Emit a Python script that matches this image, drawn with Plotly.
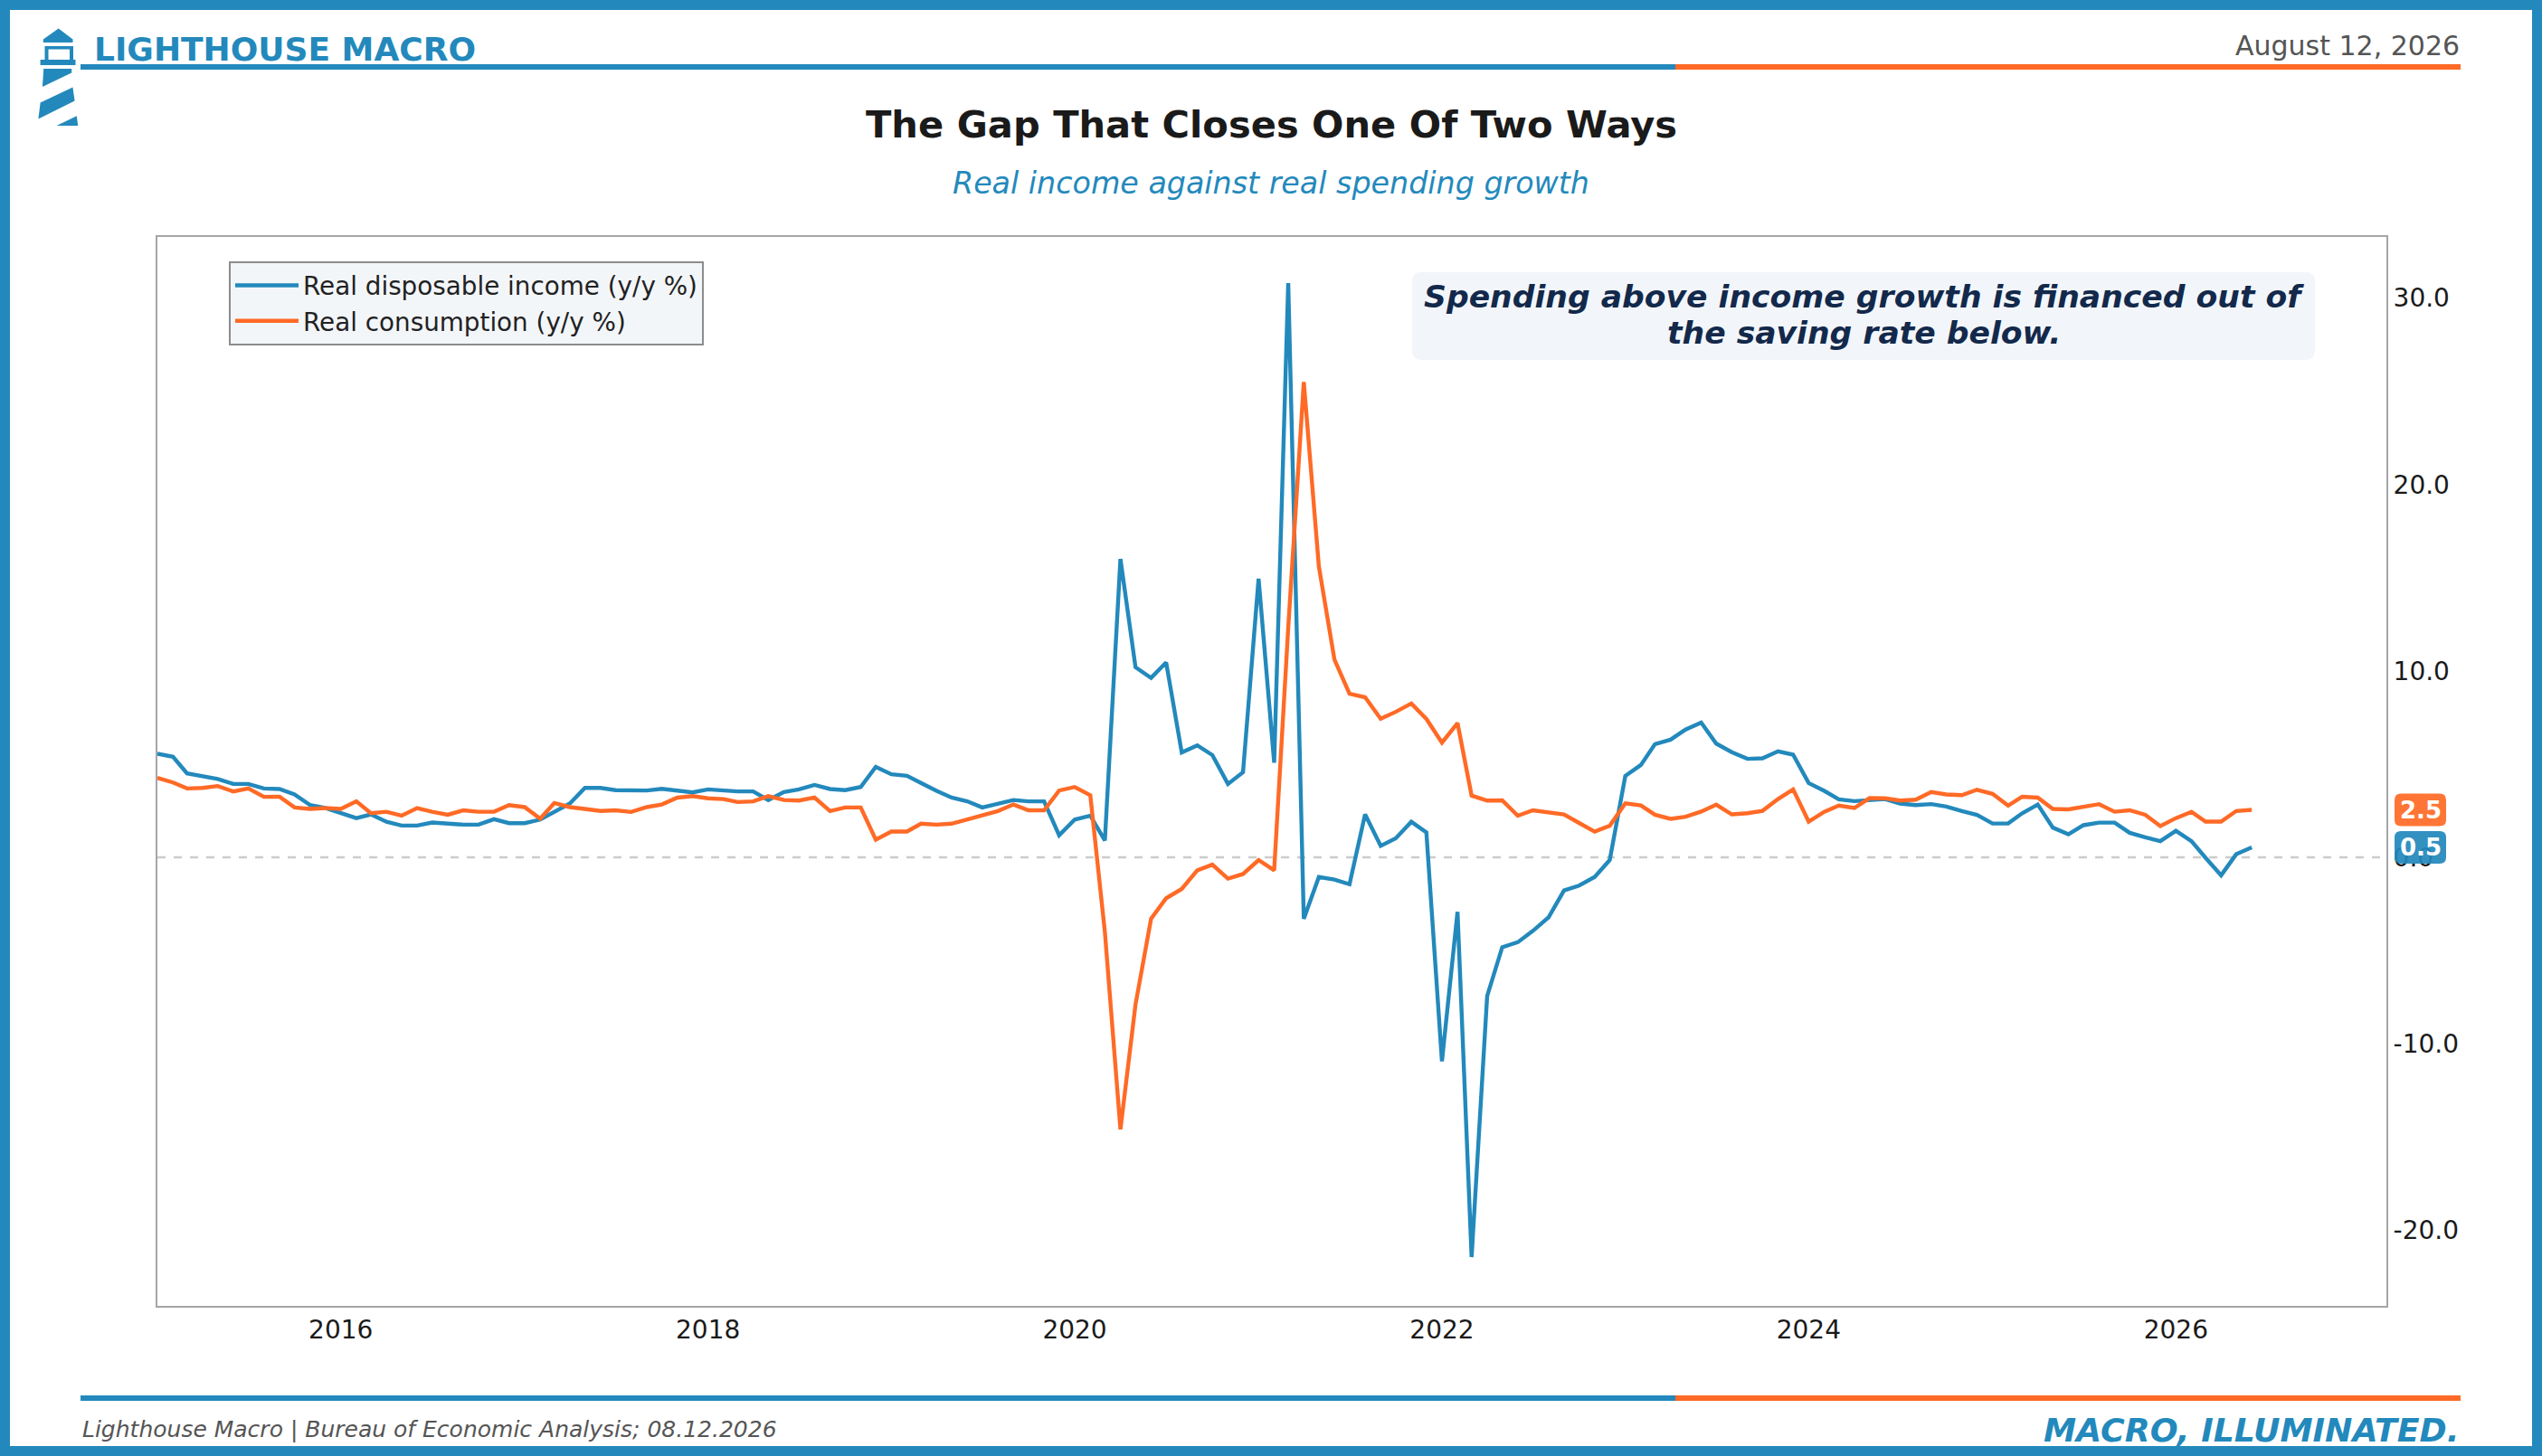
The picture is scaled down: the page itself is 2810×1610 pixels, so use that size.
import plotly.graph_objects as go
import pandas as pd

# ---------------- data ----------------
months = pd.date_range("2015-01-01", "2026-06-01", freq="MS")

income = [
    5.55, 5.39, 4.50, 4.34, 4.20, 3.93, 3.93, 3.69, 3.66, 3.37, 2.80, 2.64,
    2.39, 2.10, 2.30, 1.90, 1.70, 1.70, 1.86, 1.78, 1.75, 1.75, 2.04, 1.83,
    1.83, 2.02, 2.43, 2.88, 3.72, 3.72, 3.60, 3.60, 3.58, 3.67, 3.56, 3.48,
    3.64, 3.58, 3.53, 3.53, 3.07, 3.50, 3.64, 3.88, 3.66, 3.60, 3.77, 4.85,
    4.45, 4.37, 3.98, 3.56, 3.20, 3.00, 2.67, 2.88, 3.07, 3.00, 3.00, 1.18,
    2.02, 2.23, 0.90, 16.00, 10.20, 9.62, 10.45, 5.62, 6.00, 5.48, 3.93, 4.56,
    14.94, 5.07, 30.80, -3.30, -1.06, -1.20, -1.45, 2.30, 0.61, 1.02, 1.90, 1.33,
    -10.95, -2.93, -21.45, -7.45, -4.83, -4.56, -3.95, -3.23, -1.78, -1.52, -1.06, -0.15,
    4.36, 4.95, 6.07, 6.31, 6.85, 7.23, 6.10, 5.64, 5.28, 5.31, 5.68, 5.50,
    3.98, 3.56, 3.11, 3.01, 3.04, 3.12, 2.88, 2.80, 2.85, 2.72, 2.48, 2.27,
    1.81, 1.81, 2.36, 2.83, 1.59, 1.23, 1.72, 1.86, 1.86, 1.31, 1.07, 0.86,
    1.42, 0.86, -0.03, -0.97, 0.16, 0.53,
]

consumption = [
    4.26, 4.01, 3.69, 3.72, 3.82, 3.53, 3.69, 3.24, 3.25, 2.67, 2.59, 2.64,
    2.59, 3.00, 2.36, 2.44, 2.23, 2.64, 2.44, 2.28, 2.52, 2.44, 2.44, 2.80,
    2.69, 2.07, 2.91, 2.69, 2.59, 2.48, 2.52, 2.43, 2.69, 2.83, 3.20, 3.28,
    3.16, 3.12, 2.96, 3.00, 3.28, 3.07, 3.04, 3.20, 2.48, 2.67, 2.67, 0.94,
    1.38, 1.38, 1.80, 1.75, 1.80, 2.02, 2.27, 2.48, 2.83, 2.52, 2.52, 3.58,
    3.77, 3.33, -4.00, -14.60, -7.90, -3.30, -2.20, -1.70, -0.70, -0.40, -1.15, -0.90,
    -0.15, -0.70, 12.30, 25.50, 15.60, 10.60, 8.77, 8.58, 7.43, 7.80, 8.25, 7.42,
    6.15, 7.20, 3.31, 3.04, 3.05, 2.23, 2.52, 2.39, 2.30, 1.84, 1.37, 1.69,
    2.89, 2.78, 2.28, 2.06, 2.17, 2.45, 2.82, 2.30, 2.36, 2.49, 3.12, 3.64,
    1.91, 2.44, 2.77, 2.64, 3.17, 3.16, 3.04, 3.09, 3.50, 3.37, 3.33, 3.62,
    3.40, 2.77, 3.25, 3.20, 2.59, 2.57, 2.69, 2.85, 2.44, 2.52, 2.28, 1.67,
    2.10, 2.44, 1.91, 1.91, 2.48, 2.54,
]

series_names = ["Real disposable income (y/y %)", "Real consumption (y/y %)"]
y_ticks = [-20, -10, 0, 10, 20, 30]
y_ticktext = [f"{v:.1f}" for v in y_ticks]

# ---------------- style ----------------
W, H = 2810, 1610
L, R, T, B = 174, 2638, 262, 1444
BLUE = "#2389BC"
ORANGE = "#FF6A26"
FONT = "DejaVu Sans"


def px(x):
    return (x - L) / (R - L)


def py(y):
    return (B - y) / (B - T)


def rrect_paper(x0, y0, x1, y1, r):
    pts = [
        ("M", [(x0 + r, y0)]), ("L", [(x1 - r, y0)]), ("Q", [(x1, y0), (x1, y0 + r)]),
        ("L", [(x1, y1 - r)]), ("Q", [(x1, y1), (x1 - r, y1)]), ("L", [(x0 + r, y1)]),
        ("Q", [(x0, y1), (x0, y1 - r)]), ("L", [(x0, y0 + r)]), ("Q", [(x0, y0), (x0 + r, y0)]),
    ]
    s = ""
    for cmd, ps in pts:
        s += cmd + " ".join(f"{px(a):.6f},{py(b):.6f}" for a, b in ps) + " "
    return s + "Z"


def poly_paper(points):
    return "M" + " L".join(f"{px(a):.6f},{py(b):.6f}" for a, b in points) + " Z"


def rrect_pixel(x0, y0, x1, y1, r):
    return (f"M{x0 + r},{y0} L{x1 - r},{y0} Q{x1},{y0} {x1},{y0 + r} "
            f"L{x1},{y1 - r} Q{x1},{y1} {x1 - r},{y1} L{x0 + r},{y1} "
            f"Q{x0},{y1} {x0},{y1 - r} L{x0},{y0 + r} Q{x0},{y0} {x0 + r},{y0} Z")


fig = go.Figure()
fig.add_trace(go.Scatter(x=months, y=income, mode="lines", name=series_names[0],
                         line=dict(color=BLUE, width=4.4)))
fig.add_trace(go.Scatter(x=months, y=consumption, mode="lines", name=series_names[1],
                         line=dict(color=ORANGE, width=4.4)))

shapes = []
# zero line
shapes.append(dict(type="line", xref="paper", yref="y", x0=0, x1=1, y0=0, y1=0,
                   line=dict(color="#cccccc", width=2.5, dash="dash"), layer="below"))
# outer border
shapes.append(dict(type="rect", xref="paper", yref="paper",
                   x0=px(5.5), x1=px(W - 5.5), y0=py(5.5), y1=py(H - 5.5),
                   line=dict(color=BLUE, width=11), fillcolor="rgba(0,0,0,0)", layer="above"))
# header rule
shapes.append(dict(type="rect", xref="paper", yref="paper", x0=px(89), x1=px(1852),
                   y0=py(71), y1=py(77), fillcolor=BLUE, line=dict(width=0)))
shapes.append(dict(type="rect", xref="paper", yref="paper", x0=px(1852), x1=px(2720),
                   y0=py(71), y1=py(77), fillcolor=ORANGE, line=dict(width=0)))
# footer rule
shapes.append(dict(type="rect", xref="paper", yref="paper", x0=px(89), x1=px(1852),
                   y0=py(1543), y1=py(1549), fillcolor=BLUE, line=dict(width=0)))
shapes.append(dict(type="rect", xref="paper", yref="paper", x0=px(1852), x1=px(2720),
                   y0=py(1543), y1=py(1549), fillcolor=ORANGE, line=dict(width=0)))
# lighthouse logo
logo_parts = [
    [(64.7, 31.5), (80.5, 43.5), (80.5, 47), (47.8, 47), (47.8, 43.5)],
    [(49.5, 51), (81, 51), (81, 67), (77, 67), (77, 54.5), (53.5, 54.5), (53.5, 67), (49.5, 67)],
    [(44.6, 66), (83.5, 66), (83.5, 72), (44.6, 72)],
    [(48.2, 76), (79.2, 76), (79.2, 80.5), (46.9, 96)],
    [(80.4, 96.5), (82.6, 111.5), (42.4, 131.5), (44.6, 113.5)],
    [(84.8, 128.3), (86.2, 139), (62.5, 139)],
]
for part in logo_parts:
    shapes.append(dict(type="path", xref="paper", yref="paper", path=poly_paper(part),
                       fillcolor=BLUE, line=dict(width=0)))
# note box
shapes.append(dict(type="path", xref="paper", yref="paper",
                   path=rrect_paper(1561, 301, 2559, 398, 10),
                   fillcolor="#F2F6FA", line=dict(width=0), layer="above"))

annotations = []
# last-value labels
for vals, col in [(consumption, ORANGE), (income, BLUE)]:
    last = vals[-1]
    shapes.append(dict(type="path", xref="paper", yref="y", xsizemode="pixel", ysizemode="pixel",
                       xanchor=1, yanchor=last, path=rrect_pixel(9, -18, 66, 18, 7),
                       fillcolor=col, line=dict(width=0), opacity=0.93, layer="above"))
    annotations.append(dict(xref="paper", yref="y", x=1, y=last, xanchor="center", yanchor="middle",
                            xshift=37.5, showarrow=False, text=f"<b>{last:.1f}</b>",
                            font=dict(family=FONT, size=26, color="white")))

note_lines = ["Spending above income growth is financed out of", "the saving rate below."]
note_y = [328, 368]

annotations += [
    dict(xref="paper", yref="paper", x=px(102), y=py(54), xanchor="left", yanchor="middle",
         showarrow=False, text="<b>LIGHTHOUSE MACRO</b>", font=dict(family=FONT, size=36, color=BLUE)),
    dict(xref="paper", yref="paper", x=px(2721), y=py(50), xanchor="right", yanchor="middle",
         showarrow=False, text="August 12, 2026", font=dict(family=FONT, size=30, color="#555555")),
    dict(xref="paper", yref="paper", x=px(1405), y=py(137), xanchor="center", yanchor="middle",
         showarrow=False, text="<b>The Gap That Closes One Of Two Ways</b>",
         font=dict(family=FONT, size=41.6, color="#1a1a1a")),
    dict(xref="paper", yref="paper", x=px(1405), y=py(202), xanchor="center", yanchor="middle",
         showarrow=False, text="<i>Real income against real spending growth</i>",
         font=dict(family=FONT, size=33.3, color=BLUE)),
    dict(xref="paper", yref="paper", x=px(89), y=py(1580), xanchor="left", yanchor="middle",
         showarrow=False, text="<i>Lighthouse Macro | Bureau of Economic Analysis; 08.12.2026</i>",
         font=dict(family=FONT, size=25, color="#555555")),
    dict(xref="paper", yref="paper", x=px(2721), y=py(1581), xanchor="right", yanchor="middle",
         showarrow=False, text="<b><i>MACRO, ILLUMINATED.</i></b>",
         font=dict(family=FONT, size=36.3, color=BLUE)),
]
for line_text, ly in zip(note_lines, note_y):
    annotations.append(dict(xref="paper", yref="paper", x=px(2060), y=py(ly), xanchor="center",
                            yanchor="middle", showarrow=False, text=f"<b><i>{line_text}</i></b>",
                            font=dict(family=FONT, size=34.6, color="#13294B")))

fig.update_layout(
    width=W, height=H,
    margin=dict(l=L, r=W - R, t=T, b=H - B, pad=0),
    paper_bgcolor="white", plot_bgcolor="white",
    font=dict(family=FONT, size=28, color="#1a1a1a"),
    showlegend=True,
    legend=dict(x=px(253), y=py(289), xanchor="left", yanchor="top",
                bgcolor="#F3F6F9", bordercolor="#8c8c8c", borderwidth=2,
                font=dict(family=FONT, size=27.8, color="#222222"), itemwidth=70),
    shapes=shapes, annotations=annotations,
    xaxis=dict(range=["2015-01-01", "2027-02-24"], tickformat="%Y", dtick="M24",
               tick0="2016-01-01", showgrid=False, zeroline=False, showline=True,
               mirror=True, linecolor="#a6a6a6", linewidth=2, ticks="",
               tickfont=dict(family=FONT, size=28, color="#1a1a1a")),
    yaxis=dict(range=[-24.07, 33.28], side="right", tickvals=y_ticks, ticktext=y_ticktext,
               showgrid=False, zeroline=False, showline=True, mirror=True,
               linecolor="#a6a6a6", linewidth=2, ticks="",
               tickfont=dict(family=FONT, size=28, color="#1a1a1a")),
)

fig.write_html("out.html", config={"displayModeBar": False},
               post_script="document.body.style.margin='0';document.body.style.overflow='hidden';")
